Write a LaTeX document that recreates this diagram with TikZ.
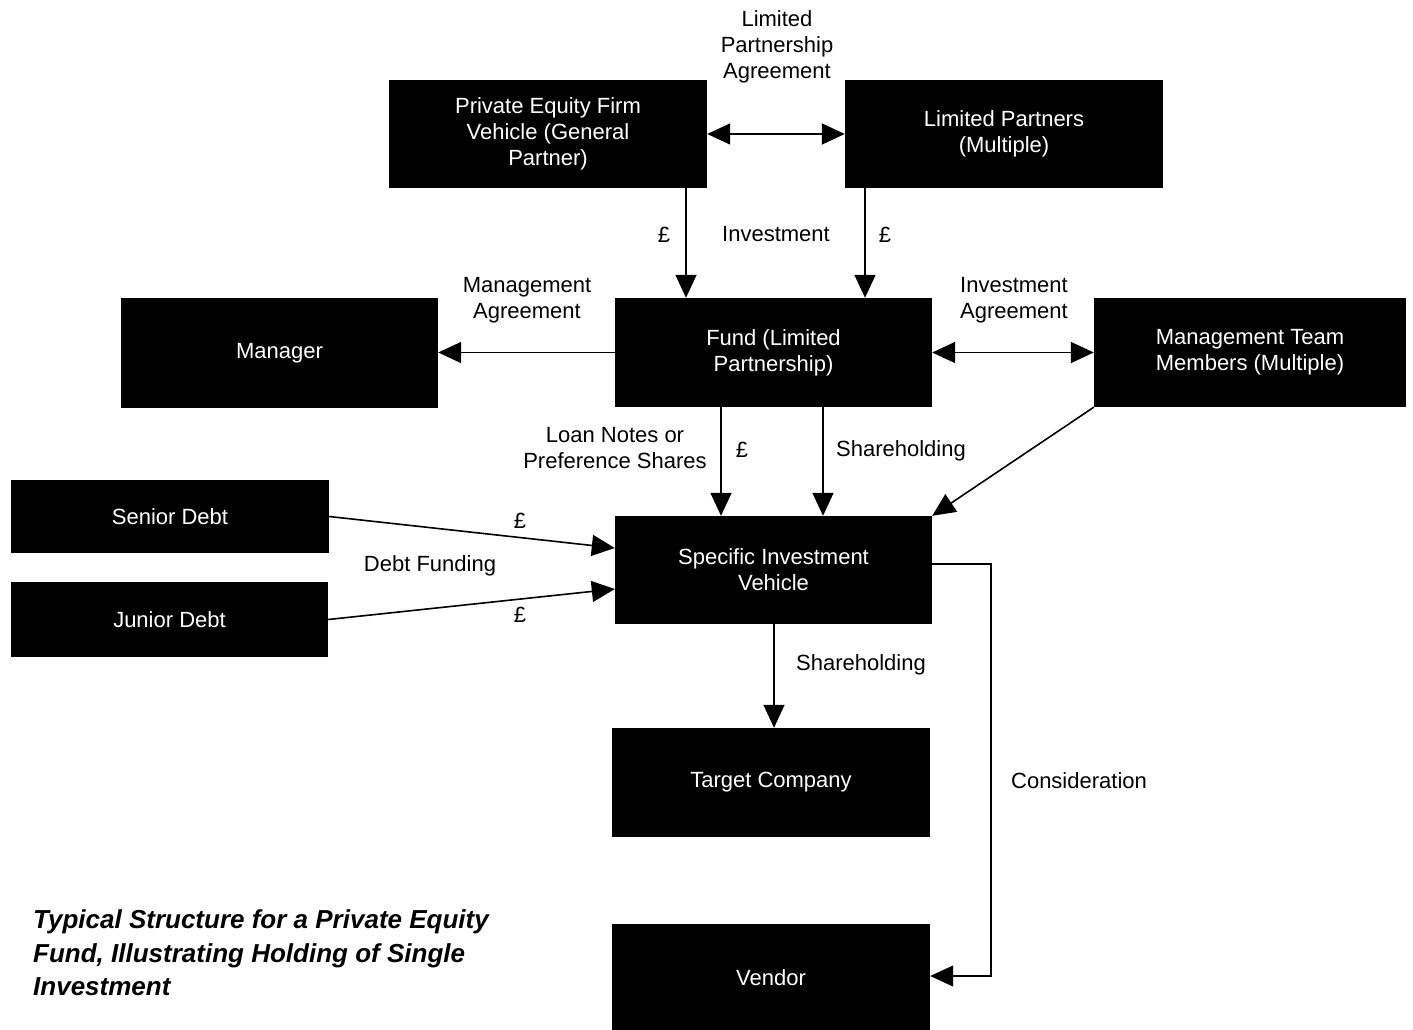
\documentclass[tikz,border=0pt]{standalone}
\usepackage{fontspec}
\setmainfont{Liberation Sans}
\usetikzlibrary{arrows.meta,calc}
\begin{document}
\begin{tikzpicture}[x=1pt,y=-1pt,
  box/.style={rectangle,fill=black,text=white,inner sep=0pt,align=center,
    font=\fontsize{22}{26}\selectfont},
  lbl/.style={inner sep=0pt,align=center,font=\fontsize{22}{26}\selectfont},
  arr/.style={line width=1.6pt,-{Triangle[length=23pt,width=21pt]}},
  darr/.style={line width=1.6pt,{Triangle[length=23pt,width=21pt]}-{Triangle[length=23pt,width=21pt]}},
  thin/.style={line width=1.1pt,-{Triangle[length=23pt,width=21pt]}}]
\useasboundingbox (0,0) rectangle (1413,1030);
\fill[white] (0,0) rectangle (1413,1030);
% boxes
\node[box,minimum width=318pt,minimum height=108pt] (GP) at (548,134) {Private Equity Firm\\Vehicle (General\\Partner)};
\node[box,minimum width=318pt,minimum height=108pt] (LP) at (1004,134) {Limited Partners\\(Multiple)};
\node[box,minimum width=317pt,minimum height=110pt] (MGR) at (279.5,353) {Manager};
\node[box,minimum width=317pt,minimum height=109pt] (FUND) at (773.5,352.5) {Fund (Limited\\Partnership)};
\node[box,minimum width=312pt,minimum height=109pt] (MTM) at (1250,352.5) {Management Team\\Members (Multiple)};
\node[box,minimum width=318pt,minimum height=73pt] (SEN) at (170,516.5) {Senior Debt};
\node[box,minimum width=317pt,minimum height=75pt] (JUN) at (169.5,619.5) {Junior Debt};
\node[box,minimum width=317pt,minimum height=108pt] (SIV) at (773.5,570) {Specific Investment\\Vehicle};
\node[box,minimum width=318pt,minimum height=109pt] (TGT) at (771,782.5) {Target Company};
\node[box,minimum width=318pt,minimum height=108pt] (VEN) at (771,978) {Vendor};
% connectors
\draw[darr] (GP.east) -- (LP.west);
\draw[arr] (GP.south -| 686,0) -- (FUND.north -| 686,0);
\draw[arr] (LP.south -| 865,0) -- (FUND.north -| 865,0);
\draw[arr] (FUND.west) -- (MGR.east |- FUND.west);
\draw[darr] (FUND.east) -- (MTM.west);
\draw[arr] (FUND.south -| 721,0) -- (SIV.north -| 721,0);
\draw[arr] (FUND.south -| 823,0) -- (SIV.north -| 823,0);
\draw[arr] (MTM.south west) -- (SIV.north east);
\draw[arr] (SEN.east) -- (SIV.west |- 0,548);
\draw[arr] (JUN.east) -- (SIV.west |- 0,589);
\draw[arr] (SIV.south -| 774,0) -- (TGT.north -| 774,0);
\coordinate (c1) at (991,564);
\coordinate (c2) at (991,976);
\draw[thin] (SIV.east |- c1) -- (c1) -- (c2) -- (VEN.east |- c2);
% labels
\node[lbl] (lpa) at (777,47) {Limited\\Partnership\\Agreement};
\node[lbl] (p1) at (664,235) {£};
\node[lbl] (inv) at (776,234) {Investment};
\node[lbl] (p2) at (885,235) {£};
\node[lbl] (ma) at (527,300) {Management\\Agreement};
\node[lbl] (ia) at (1014,300) {Investment\\Agreement};
\node[lbl] (ln) at (615,448) {Loan Notes or\\Preference Shares};
\node[lbl] (p3) at (742,450) {£};
\node[lbl] (sh1) at (901,451) {Shareholding};
\node[lbl] (p4) at (520,521) {£};
\node[lbl] (df) at (430,566) {Debt Funding};
\node[lbl] (p5) at (520,615) {£};
\node[lbl] (sh2) at (861,665) {Shareholding};
\node[lbl] (con) at (1079,781) {Consideration};
\node[inner sep=0pt,anchor=west,align=left,font=\fontsize{26}{33.5}\selectfont\bfseries\itshape] (title) at (33,953) {Typical Structure for a Private Equity\\Fund, Illustrating Holding of Single\\Investment};
\end{tikzpicture}
\end{document}
